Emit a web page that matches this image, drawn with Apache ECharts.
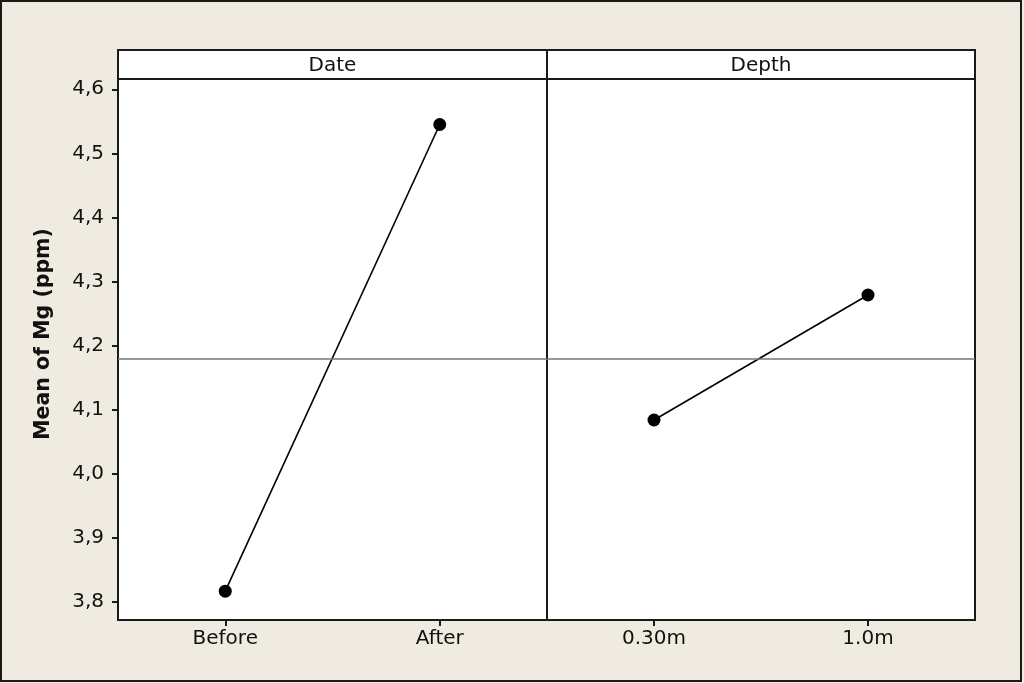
<!DOCTYPE html>
<html>
<head>
<meta charset="utf-8">
<script src="https://cdn.jsdelivr.net/npm/echarts@6/dist/echarts.min.js"></script>
<style>
html,body{margin:0;padding:0;background:#EFEBE1;}
#chart{width:1024px;height:683px;}
</style>
</head>
<body>
<div id="chart"></div>
<script>
// ---- data ----
const panelTitles = ['Date', 'Depth'];
const dateCategories = ['Before', 'After'];
const dateMeans = [3.817, 4.545];
const depthCategories = ['0.30m', '1.0m'];
const depthMeans = [4.084, 4.279];
const yTicks = [3.8, 3.9, 4.0, 4.1, 4.2, 4.3, 4.4, 4.5, 4.6];
const yTitle = 'Mean of Mg (ppm)';

const grandMean = (dateMeans.reduce((a, b) => a + b, 0) + depthMeans.reduce((a, b) => a + b, 0)) / (dateMeans.length + depthMeans.length);

const FONT = 'DejaVu Sans';
const DARK = '#1a1a1a';
const yMin = 3.772, yMax = 4.616;

const chart = echarts.init(document.getElementById('chart'));

function fmt(v) { return v.toFixed(1).replace('.', ','); }

const gridL = 118, gridTop = 79, gridH = 541, midX = 547, gridR = 975, headTop = 50;

function xAxis(idx, cats) {
  return {
    type: 'category', gridIndex: idx, data: cats, boundaryGap: true,
    axisLine: { show: true, lineStyle: { color: DARK, width: 2 } },
    axisTick: { show: true, alignWithLabel: true, length: 6, lineStyle: { color: DARK, width: 2 } },
    axisLabel: { color: '#111', fontFamily: FONT, fontSize: 20, margin: 9 },
    splitLine: { show: false }
  };
}
function yAxis(idx, show) {
  return {
    type: 'value', gridIndex: idx, min: yMin, max: yMax,
    axisLine: { show: show, lineStyle: { color: DARK, width: 2 } },
    axisTick: { show: show, length: 6, customValues: yTicks, lineStyle: { color: DARK, width: 2 } },
    axisLabel: { show: show, customValues: yTicks, formatter: fmt, color: '#111', fontFamily: FONT, fontSize: 20, margin: 14 },
    splitLine: { show: false }
  };
}
function series(idx, data) {
  return {
    type: 'line', xAxisIndex: idx, yAxisIndex: idx, data: data,
    symbol: 'circle', symbolSize: 13,
    itemStyle: { color: '#000' },
    lineStyle: { color: '#000', width: 1.6 },
    animation: false, silent: true,
    markLine: {
      silent: true, symbol: 'none', label: { show: false },
      lineStyle: { color: '#777', width: 1.5, type: 'solid' },
      data: [{ yAxis: grandMean }]
    }
  };
}

const option = {
  backgroundColor: '#EFEBE1',
  animation: false,
  grid: [
    { left: gridL, top: gridTop, width: midX - gridL, height: gridH, show: true, backgroundColor: '#fff', borderColor: DARK, borderWidth: 2 },
    { left: midX, top: gridTop, width: gridR - midX, height: gridH, show: true, backgroundColor: '#fff', borderColor: DARK, borderWidth: 2 }
  ],
  xAxis: [xAxis(0, dateCategories), xAxis(1, depthCategories)],
  yAxis: [yAxis(0, true), yAxis(1, false)],
  series: [series(0, dateMeans), series(1, depthMeans)],
  graphic: [
    { type: 'rect', shape: { x: 1, y: 1, width: 1020, height: 680 }, style: { fill: null, stroke: DARK, lineWidth: 2 }, z: 100 },
    { type: 'rect', shape: { x: gridL, y: headTop, width: midX - gridL, height: gridTop - headTop }, style: { fill: '#fff', stroke: DARK, lineWidth: 2 } },
    { type: 'rect', shape: { x: midX, y: headTop, width: gridR - midX, height: gridTop - headTop }, style: { fill: '#fff', stroke: DARK, lineWidth: 2 } },
    { type: 'text', x: (gridL + midX) / 2, y: (headTop + gridTop) / 2 + 1, style: { text: panelTitles[0], font: '20px "DejaVu Sans"', fill: '#111', align: 'center', verticalAlign: 'middle' } },
    { type: 'text', x: (midX + gridR) / 2, y: (headTop + gridTop) / 2 + 1, style: { text: panelTitles[1], font: '20px "DejaVu Sans"', fill: '#111', align: 'center', verticalAlign: 'middle' } },
    { type: 'text', x: 44, y: 334, rotation: Math.PI / 2, style: { text: yTitle, font: 'bold 20.5px "DejaVu Sans"', fill: '#111', align: 'center', verticalAlign: 'middle' } }
  ]
};
chart.setOption(option);
</script>
</body>
</html>
